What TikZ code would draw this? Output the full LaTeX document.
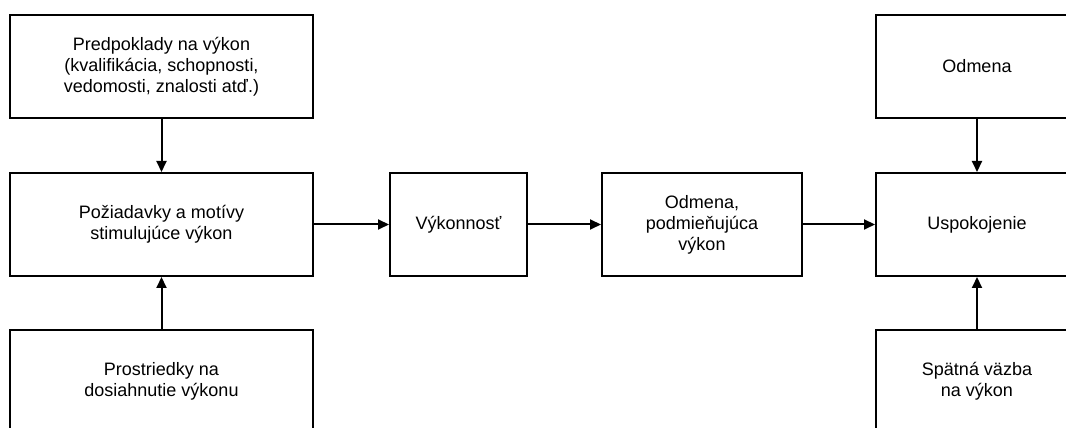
\documentclass[tikz,border=0pt]{standalone}
\usepackage{fontspec}
\setmainfont{Liberation Sans}
\usetikzlibrary{arrows.meta}
\begin{document}
\begin{tikzpicture}[x=1pt, y=1pt,
    box/.style={draw, line width=2pt, align=center, inner sep=0pt,
      minimum height=103pt, font=\fontsize{18}{21}\selectfont},
    arr/.style={line width=2pt, -{Triangle[length=11pt, width=10pt]}}]
      \useasboundingbox (0, 0) rectangle (1066, 428);
      \clip (0, 0) rectangle (1066, 428);
        %%left column
        \node[box, minimum width=303pt] (predpoklady) at (161.5, 361.5)
          {Predpoklady na výkon\\(kvalifikácia, schopnosti,\\vedomosti, znalosti atď.)};
        \node[box, minimum width=303pt] (poziadavky) at (161.5, 203.5)
          {Požiadavky a motívy\\stimulujúce výkon};
        \node[box, minimum width=303pt] (prostriedky) at (161.5, 46.5)
          {Prostriedky na\\dosiahnutie výkonu};
        %%middle
        \node[box, minimum width=137pt] (vykonnost) at (458.5, 203.5) {Výkonnosť};
        \node[box, minimum width=200pt] (odmenapodm) at (702, 203.5)
          {Odmena,\\podmieňujúca\\výkon};
        %%right column
        \node[box, minimum width=202pt] (odmena) at (977, 361.5) {Odmena};
        \node[box, minimum width=202pt] (uspokojenie) at (977, 203.5) {Uspokojenie};
        \node[box, minimum width=202pt] (spatna) at (977, 46.5)
          {Spätná väzba\\na výkon};

        \draw[arr] (predpoklady) to (poziadavky);
        \draw[arr] (prostriedky) to (poziadavky);
        \draw[arr] (poziadavky) to (vykonnost);
        \draw[arr] (vykonnost) to (odmenapodm);
        \draw[arr] (odmenapodm) to (uspokojenie);
        \draw[arr] (odmena) to (uspokojenie);
        \draw[arr] (spatna) to (uspokojenie);
\end{tikzpicture}
\end{document}
